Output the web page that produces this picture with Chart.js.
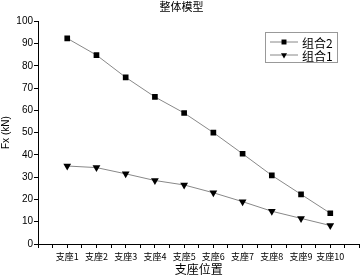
<!DOCTYPE html>
<html lang="zh">
<head>
    <meta charset="UTF-8">
    <title>整体模型</title>
    <script src="https://cdn.jsdelivr.net/npm/chart.js"></script>
    <style>
        html, body { margin: 0; padding: 0; background: #fff; }
        #wrap { width: 364px; height: 277px; }
    </style>
</head>
<body>
    <div id="wrap"><canvas id="myChart" width="364" height="277"></canvas></div>

    <script>
        // data
        const supports = ['支座1', '支座2', '支座3', '支座4', '支座5', '支座6', '支座7', '支座8', '支座9', '支座10'];
        const combo2 = [92.3, 84.8, 74.8, 66.0, 58.8, 50.0, 40.5, 30.8, 22.3, 13.8];
        const combo1 = [35.0, 34.3, 31.5, 28.5, 26.5, 23.0, 19.0, 14.7, 11.5, 8.3];
        const seriesNames = ['组合2', '组合1'];

        const cjk = '"Noto Sans CJK SC", "Noto Sans", sans-serif';

        // legend box drawn inside the plot, like the original
        const boxLegend = {
            id: 'boxLegend',
            afterDraw(chart) {
                const ctx = chart.ctx;
                const x = 265, y = 32, w = 72, h = 30;
                ctx.save();
                ctx.fillStyle = '#fff';
                ctx.fillRect(x, y, w, h);
                ctx.strokeStyle = '#999';
                ctx.lineWidth = 1;
                ctx.strokeRect(x + 0.5, y + 0.5, w, h);
                chart.data.datasets.forEach((ds, i) => {
                    const cy = y + 10 + i * 13;
                    ctx.strokeStyle = '#888';
                    ctx.beginPath();
                    ctx.moveTo(x + 5, cy);
                    ctx.lineTo(x + 33, cy);
                    ctx.stroke();
                    ctx.fillStyle = '#000';
                    ctx.strokeStyle = '#000';
                    Chart.helpers.drawPoint(ctx, {
                        pointStyle: ds.pointStyle,
                        radius: 3.5,
                        rotation: ds.pointRotation || 0,
                        borderWidth: 0
                    }, x + 19, cy);
                    ctx.fillStyle = '#000';
                    ctx.font = '12px ' + cjk;
                    ctx.textBaseline = 'middle';
                    ctx.fillText(ds.label, x + 37, cy + 1);
                });
                ctx.restore();
            }
        };

        const ctx = document.getElementById('myChart').getContext('2d');
        new Chart(ctx, {
            type: 'line',
            data: {
                datasets: [
                    {
                        label: seriesNames[0],
                        data: combo2.map((v, i) => ({x: i + 1, y: v})),
                        borderColor: '#888',
                        borderWidth: 1,
                        backgroundColor: '#000',
                        pointBackgroundColor: '#000',
                        pointBorderWidth: 0,
                        pointStyle: 'rect',
                        pointRadius: 4,
                        tension: 0
                    },
                    {
                        label: seriesNames[1],
                        data: combo1.map((v, i) => ({x: i + 1, y: v})),
                        borderColor: '#888',
                        borderWidth: 1,
                        backgroundColor: '#000',
                        pointBackgroundColor: '#000',
                        pointBorderWidth: 0,
                        pointStyle: 'triangle',
                        pointRotation: 180,
                        pointRadius: 4.5,
                        tension: 0
                    }
                ]
            },
            options: {
                responsive: false,
                animation: false,
                layout: { padding: { left: 0, right: 1, top: 0, bottom: 0 } },
                plugins: {
                    legend: { display: false },
                    tooltip: { enabled: false },
                    title: {
                        display: true,
                        text: '整体模型',
                        color: '#000',
                        font: { family: cjk, size: 11, weight: 'normal' },
                        padding: { top: 0, bottom: 8 }
                    }
                },
                scales: {
                    x: {
                        type: 'linear',
                        min: 0,
                        max: 11,
                        border: { display: true, color: '#000', width: 1 },
                        grid: { drawOnChartArea: false, drawTicks: true, tickLength: 4, color: '#000' },
                        ticks: {
                            stepSize: 0.5,
                            autoSkip: false,
                            maxRotation: 0,
                            padding: 3,
                            color: '#000',
                            font: { family: cjk, size: 9 },
                            callback: v => (Number.isInteger(v) && v >= 1 && v <= supports.length) ? supports[v - 1] : ''
                        },
                        title: {
                            display: true,
                            text: '支座位置',
                            color: '#000',
                            font: { family: cjk, size: 12 },
                            padding: { top: 3, bottom: 0 }
                        },
                        afterFit: s => { s.height = 33; }
                    },
                    y: {
                        min: 0,
                        max: 100,
                        border: { display: true, color: '#000', width: 1 },
                        grid: { drawOnChartArea: false, drawTicks: true, tickLength: 4, color: '#000' },
                        ticks: {
                            stepSize: 5,
                            padding: 1,
                            color: '#000',
                            font: { family: 'Arial, "Liberation Sans", sans-serif', size: 10 },
                            callback: v => v % 10 === 0 ? v : ''
                        },
                        title: {
                            display: true,
                            text: 'Fx (kN)',
                            color: '#000',
                            font: { family: 'Arial, "Liberation Sans", sans-serif', size: 10 },
                            padding: { top: 0, bottom: 0 }
                        },
                        afterFit: s => { s.width = 38; }
                    }
                }
            },
            plugins: [boxLegend]
        });
    </script>
</body>
</html>
